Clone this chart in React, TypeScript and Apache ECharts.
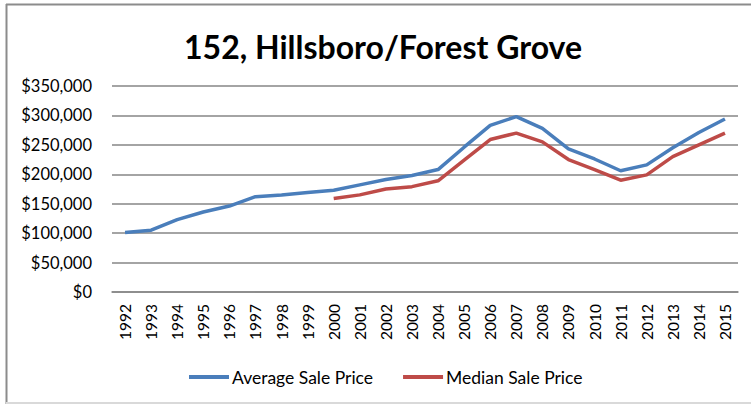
import React, { useEffect, useRef } from "react";
import * as echarts from "echarts";

const years = [
  "1992", "1993", "1994", "1995", "1996", "1997", "1998", "1999", "2000", "2001", "2002", "2003",
  "2004", "2005", "2006", "2007", "2008", "2009", "2010", "2011", "2012", "2013", "2014", "2015",
];
const averageSalePrice = [
  101000, 105000, 123000, 136000, 146000, 162000, 165000, 169000, 173000, 182000, 191000, 198000,
  208000, 246000, 283000, 298000, 278000, 243000, 226000, 206000, 216000, 245000, 271000, 294000,
];
const medianSalePrice = [
  null, null, null, null, null, null, null, null, 159000, 165000, 175000, 179000,
  189000, 224000, 259000, 270000, 255000, 225000, 208000, 190000, 199000, 230000, 250000, 270000,
];
const seriesNames = ["Average Sale Price", "Median Sale Price"];
const chartTitle = "152, Hillsboro/Forest Grove";

const FONT = "Lato, 'Noto Sans', sans-serif";

export default function App() {
  const ref = useRef<HTMLDivElement>(null);
  useEffect(() => {
    if (!ref.current) return;
    const chart = echarts.init(ref.current, undefined, { renderer: "svg" });
    chart.setOption({
      animation: false,
      backgroundColor: "#fff",
      graphic: [
        { type: "line", shape: { x1: 6, y1: 4.5, x2: 760, y2: 4.5 }, style: { stroke: "#8c8c8c", lineWidth: 2 } },
        { type: "line", shape: { x1: 6.5, y1: 4, x2: 6.5, y2: 404 }, style: { stroke: "#8c8c8c", lineWidth: 2 } },
        { type: "line", shape: { x1: 6, y1: 403, x2: 760, y2: 403 }, style: { stroke: "#d9d9d9", lineWidth: 2 } },
        {
          type: "text",
          x: 383,
          y: 46,
          style: {
            text: chartTitle,
            font: `bold 32px ${FONT}`,
            fill: "#000",
            textAlign: "center",
            textVerticalAlign: "middle",
          },
        },
      ],
      grid: { left: 112, right: 13, top: 86, bottom: 112, containLabel: false },
      legend: {
        data: seriesNames,
        left: 184,
        top: 363,
        icon: "rect",
        itemWidth: 40,
        itemHeight: 4,
        itemGap: 30,
        textStyle: { fontFamily: FONT, fontSize: 17.5, color: "#000", padding: [0, 0, 0, -2] },
      },
      xAxis: {
        type: "category",
        data: years,
        boundaryGap: true,
        axisLine: { lineStyle: { color: "#868686", width: 1.5 } },
        axisTick: { show: false },
        axisLabel: { rotate: 90, fontFamily: FONT, fontSize: 15.5, color: "#000", margin: 12, interval: 0 },
      },
      yAxis: {
        type: "value",
        min: 0,
        max: 350000,
        interval: 50000,
        axisLine: { show: false },
        axisTick: { show: false },
        splitLine: { lineStyle: { color: "#868686", width: 1.5 } },
        axisLabel: {
          fontFamily: FONT,
          fontSize: 16.5,
          color: "#000",
          margin: 20,
          formatter: (v: number) => "$" + v.toLocaleString("en-US"),
        },
      },
      series: [
        {
          name: seriesNames[0],
          type: "line",
          data: averageSalePrice,
          showSymbol: false,
          symbol: "none",
          lineStyle: { color: "#4a7ebb", width: 3.5 },
          itemStyle: { color: "#4a7ebb" },
        },
        {
          name: seriesNames[1],
          type: "line",
          data: medianSalePrice,
          showSymbol: false,
          symbol: "none",
          lineStyle: { color: "#be4b48", width: 3.5 },
          itemStyle: { color: "#be4b48" },
        },
      ],
    });
    return () => chart.dispose();
  }, []);
  return (
    <div
      ref={ref}
      style={{ position: "absolute", left: 0, top: 0, width: 751, height: 404 }}
    />
  );
}
